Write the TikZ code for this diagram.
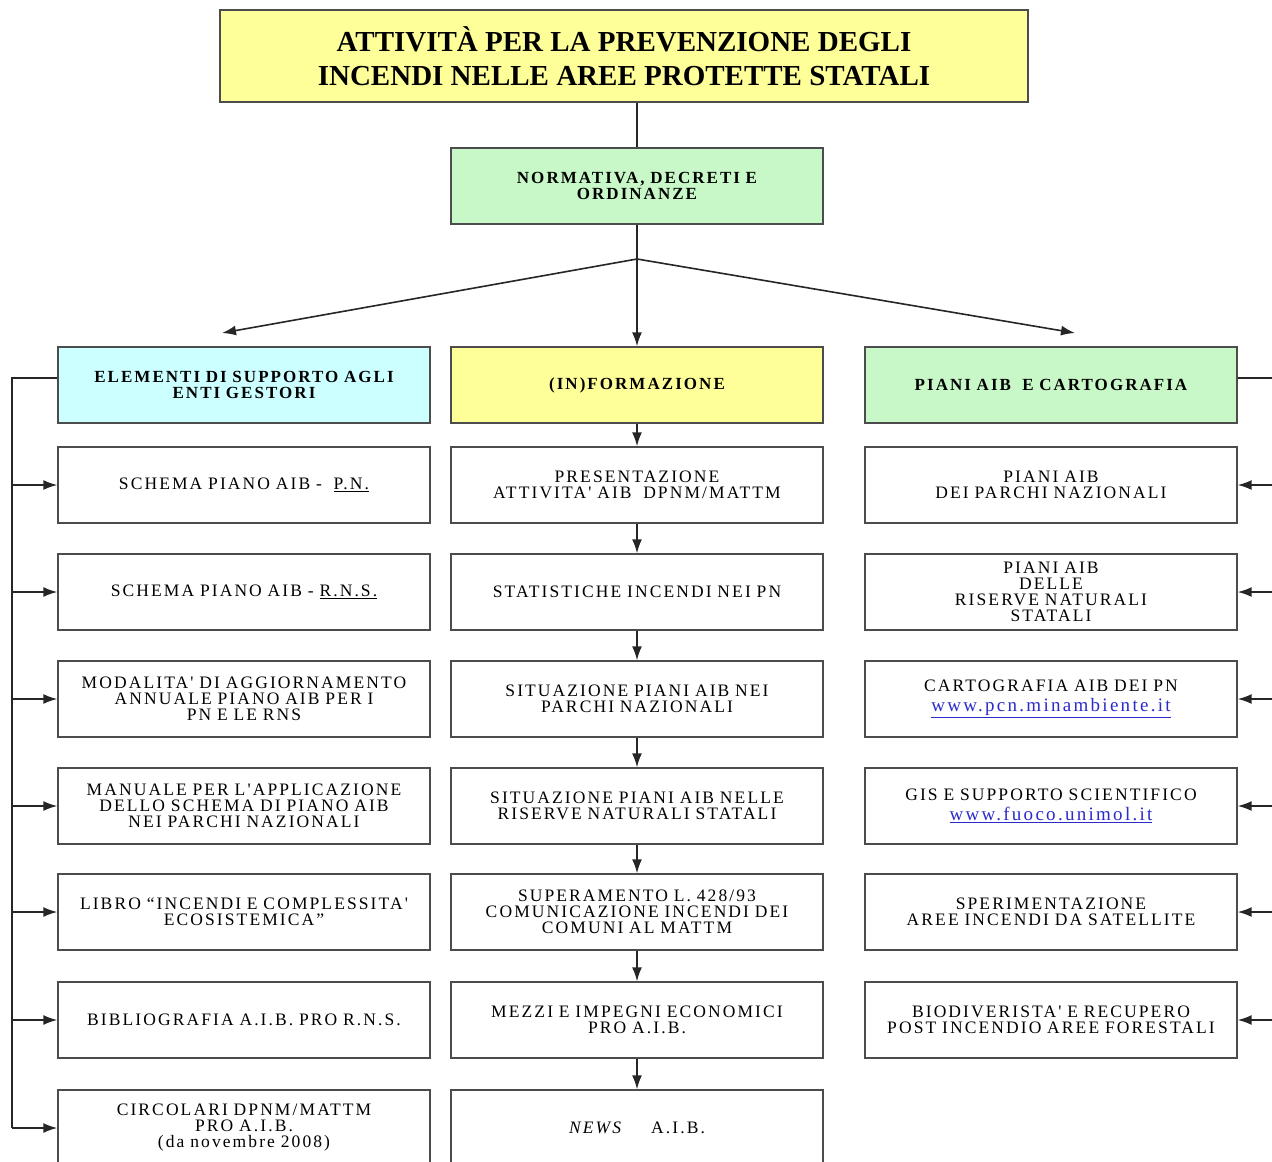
\documentclass[tikz,border=0pt]{standalone}
\usepackage{fontspec}
\setmainfont{Liberation Serif}
\newfontfamily\boxfont[LetterSpace=12]{Liberation Serif}
\usepackage{xcolor}
\usetikzlibrary{arrows.meta, positioning}
\definecolor{titleyellow}{HTML}{FFFF99}
\definecolor{normgreen}{HTML}{C8F8C8}
\definecolor{headcyan}{HTML}{CCFFFF}
\definecolor{linkblue}{HTML}{2B2BCC}
\newcommand{\weblink}[1]{{\fontsize{19}{19}\selectfont\textcolor{linkblue}{\underline{#1}}}}

\begin{document}
\begin{tikzpicture}[x=1pt, y=-1pt,
  titlebox/.style={rectangle, draw=black!70, line width=1.6pt, fill=titleyellow,
              minimum width=808pt, minimum height=92pt, align=center,
              font=\fontsize{29}{34}\selectfont\bfseries},
  box/.style={rectangle, draw=black!70, line width=1.4pt, fill=white,
              minimum width=372pt, minimum height=76pt, inner sep=4pt,
              text width=362pt, align=center,
              font=\boxfont\fontsize{17.5}{16}\selectfont},
  head/.style={box, font=\boxfont\bfseries\fontsize{17}{16}\selectfont},
  line/.style={line width=1.6pt, black!85},
  arrow/.style={line, -{Latex[length=14pt,width=10pt]}}
]
\useasboundingbox (0,0) rectangle (1272,1162);
\clip (0,0) rectangle (1272,1162);

%% Top
\node[titlebox] (title) at (624,56) {ATTIVITÀ PER LA PREVENZIONE DEGLI\\INCENDI NELLE AREE PROTETTE STATALI};
\node[head, fill=normgreen] (norm) at (637,186) {NORMATIVA, DECRETI E\\ORDINANZE};

%% Headers
\node[head, fill=headcyan] (headL) at (244,385) {ELEMENTI DI SUPPORTO AGLI\\ENTI GESTORI};
\node[head, fill=titleyellow] (headC) at (637,385) {(IN)FORMAZIONE};
\node[head, fill=normgreen] (headR) at (1051,385) {PIANI AIB\ \ E CARTOGRAFIA};

%% Left column
\node[box] (l1) at (244,485) {SCHEMA PIANO AIB -\ \ \underline{P.N.}\\[8pt]};
\node[box] (l2) at (244,592) {SCHEMA PIANO AIB - \underline{R.N.S.}\\[8pt]};
\node[box] (l3) at (244,699) {MODALITA' DI AGGIORNAMENTO\\ANNUALE PIANO AIB PER I\\PN E LE RNS\\[4pt]};
\node[box] (l4) at (244,806) {MANUALE PER L'APPLICAZIONE\\DELLO SCHEMA DI PIANO AIB\\NEI PARCHI NAZIONALI\\[4pt]};
\node[box] (l5) at (244,912) {LIBRO “INCENDI E COMPLESSITA'\\ECOSISTEMICA”\\[6pt]};
\node[box] (l6) at (244,1020) {BIBLIOGRAFIA A.I.B. PRO R.N.S.};
\node[box] (l7) at (244,1128) {CIRCOLARI DPNM/MATTM\\PRO A.I.B.\\(da novembre 2008)};

%% Middle column
\node[box] (c1) at (637,485) {PRESENTAZIONE\\ATTIVITA' AIB\ \ DPNM/MATTM};
\node[box] (c2) at (637,592) {STATISTICHE INCENDI NEI PN};
\node[box] (c3) at (637,699) {SITUAZIONE PIANI AIB NEI\\PARCHI NAZIONALI\\[6pt]};
\node[box] (c4) at (637,806) {SITUAZIONE PIANI AIB NELLE\\RISERVE NATURALI STATALI\\[4pt]};
\node[box] (c5) at (637,912) {SUPERAMENTO L. 428/93\\COMUNICAZIONE INCENDI DEI\\COMUNI AL MATTM};
\node[box] (c6) at (637,1020) {MEZZI E IMPEGNI ECONOMICI\\PRO A.I.B.\\[8pt]};
\node[box] (c7) at (637,1128) {\textit{NEWS}\hspace{1.6em}A.I.B.};

%% Right column
\node[box] (r1) at (1051,485) {PIANI AIB\\DEI PARCHI NAZIONALI};
\node[box] (r2) at (1051,592) {PIANI AIB\\DELLE\\RISERVE NATURALI\\STATALI};
\node[box] (r3) at (1051,699) {CARTOGRAFIA AIB DEI PN\\[4pt]\weblink{www.pcn.minambiente.it}};
\node[box] (r4) at (1051,806) {GIS E SUPPORTO SCIENTIFICO\\[4pt]\weblink{www.fuoco.unimol.it}};
\node[box] (r5) at (1051,912) {SPERIMENTAZIONE\\AREE INCENDI DA SATELLITE\\[4pt]};
\node[box] (r6) at (1051,1020) {BIODIVERISTA' E RECUPERO\\POST INCENDIO AREE FORESTALI\\[4pt]};

%% Fork
\coordinate (fork) at (637,259);
\coordinate (tipL) at (222,333);
\coordinate (tipR) at (1075,333);
\draw[line] (title.south -| norm) -- (norm);
\draw[line] (norm) -- (fork);
\draw[arrow] (fork) -- (headC);
\draw[arrow] (fork) -- (tipL);
\draw[arrow] (fork) -- (tipR);

%% Middle chain
\draw[arrow] (headC) -- (c1);
\draw[arrow] (c1) -- (c2);
\draw[arrow] (c2) -- (c3);
\draw[arrow] (c3) -- (c4);
\draw[arrow] (c4) -- (c5);
\draw[arrow] (c5) -- (c6);
\draw[arrow] (c6) -- (c7);

%% Left bus
\coordinate (busL) at (12,378);
\draw[line] (headL.west |- busL) -- (busL) -- (busL |- l7.west);
\draw[arrow] (busL |- l1.west) -- (l1.west);
\draw[arrow] (busL |- l2.west) -- (l2.west);
\draw[arrow] (busL |- l3.west) -- (l3.west);
\draw[arrow] (busL |- l4.west) -- (l4.west);
\draw[arrow] (busL |- l5.west) -- (l5.west);
\draw[arrow] (busL |- l6.west) -- (l6.west);
\draw[arrow] (busL |- l7.west) -- (l7.west);

%% Right bus
\coordinate (busR) at (1285,378);
\draw[line] (headR.east |- busR) -- (busR) -- (busR |- r6.east);
\draw[arrow] (busR |- r1.east) -- (r1.east);
\draw[arrow] (busR |- r2.east) -- (r2.east);
\draw[arrow] (busR |- r3.east) -- (r3.east);
\draw[arrow] (busR |- r4.east) -- (r4.east);
\draw[arrow] (busR |- r5.east) -- (r5.east);
\draw[arrow] (busR |- r6.east) -- (r6.east);
\end{tikzpicture}
\end{document}
